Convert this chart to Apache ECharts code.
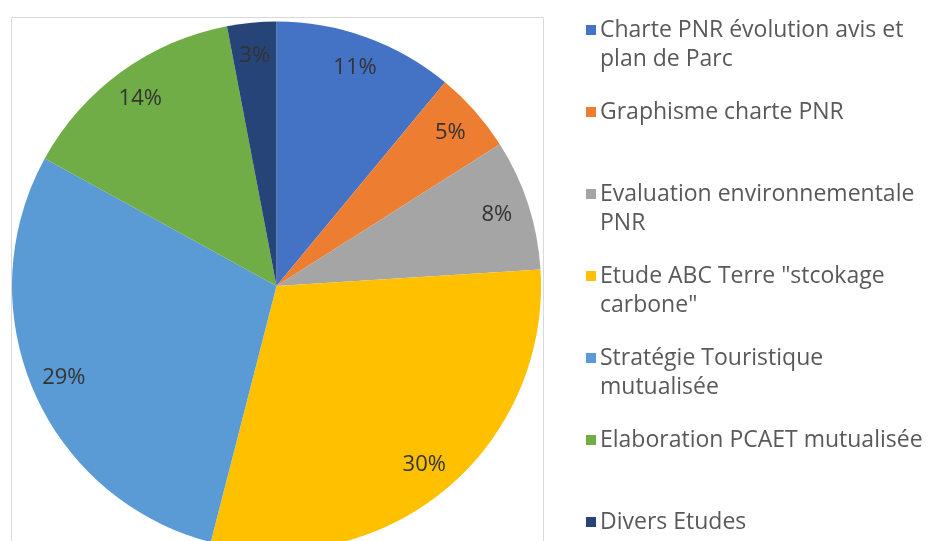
<!DOCTYPE html>
<html>
<head>
<meta charset="utf-8">
<script src="https://cdn.jsdelivr.net/npm/echarts@6/dist/echarts.min.js"></script>
<style>
  html, body { margin: 0; padding: 0; background: #ffffff; }
  #chart { width: 935px; height: 541px; }
</style>
</head>
<body>
<div id="chart"></div>
<script>
// Budget shares by study (percent)
const categories = [
  'Charte PNR évolution avis et plan de Parc',
  'Graphisme charte PNR',
  'Evaluation environnementale PNR',
  'Etude ABC Terre "stcokage carbone"',
  'Stratégie Touristique mutualisée',
  'Elaboration PCAET mutualisée',
  'Divers Etudes'
];
const shares = [11, 5, 8, 30, 29, 14, 3];

// Legend text, split over two lines as displayed
const legendLines = [
  ['Charte PNR évolution avis et', 'plan de Parc'],
  ['Graphisme charte PNR', ''],
  ['Evaluation environnementale', 'PNR'],
  ['Etude ABC Terre "stcokage', 'carbone"'],
  ['Stratégie Touristique', 'mutualisée'],
  ['Elaboration PCAET mutualisée', ''],
  ['Divers Etudes', '']
];

const colors = ['#4472C4', '#ED7D31', '#A5A5A5', '#FFC000', '#5B9BD5', '#70AD47', '#264478'];

const FONT = '"Open Sans", "Noto Sans", sans-serif';
const LINE_H = 29;

const pieData = categories.map((name, i) => ({ name, value: shares[i] }));

// rich styles: one coloured square per legend entry
const rich = {
  g: { width: 4, height: 10 },
  ind: { width: 14, height: 10, lineHeight: LINE_H },
  t: { fontFamily: FONT, fontSize: 23, color: '#595959', lineHeight: LINE_H, verticalAlign: 'middle' }
};
colors.forEach((c, i) => {
  rich['m' + i] = { width: 10, height: 10, backgroundColor: c, verticalAlign: 'middle', lineHeight: LINE_H };
});

const chart = echarts.init(document.getElementById('chart'), null, { renderer: 'canvas' });

chart.setOption({
  animation: false,
  color: colors,
  graphic: [{
    type: 'rect',
    z: 0,
    silent: true,
    shape: { x: 11.5, y: 17.5, width: 532, height: 600 },
    style: { fill: 'none', stroke: '#D9D9D9', lineWidth: 1 }
  }],
  legend: {
    orient: 'vertical',
    left: 581,
    top: 18.5,
    height: 700,
    padding: 0,
    itemGap: 30,
    itemWidth: 0,
    itemHeight: 0,
    selectedMode: false,
    data: categories,
    formatter: (name) => {
      const i = categories.indexOf(name);
      const [a, b] = legendLines[i];
      return '{m' + i + '|}{g|}{t|' + a + '}\n{ind|}{t|' + (b || '\u00a0') + '}';
    },
    textStyle: { rich }
  },
  series: [
    {
      type: 'pie',
      center: [276.5, 286],
      radius: 264.5,
      startAngle: 90,
      clockwise: true,
      data: pieData,
      label: { show: false },
      labelLine: { show: false },
      emphasis: { disabled: true },
      itemStyle: { borderWidth: 0 }
    },
    {
      // transparent ring that carries the percentage labels near the rim
      type: 'pie',
      center: [276.5, 286],
      radius: [193, 264.5],
      startAngle: 90,
      clockwise: true,
      silent: true,
      data: pieData,
      itemStyle: { color: 'transparent', borderWidth: 0 },
      label: {
        show: true,
        position: 'inside',
        formatter: '{c}%',
        fontFamily: FONT,
        fontSize: 22,
        color: '#333333'
      },
      labelLine: { show: false },
      emphasis: { disabled: true }
    }
  ]
});
</script>
</body>
</html>
